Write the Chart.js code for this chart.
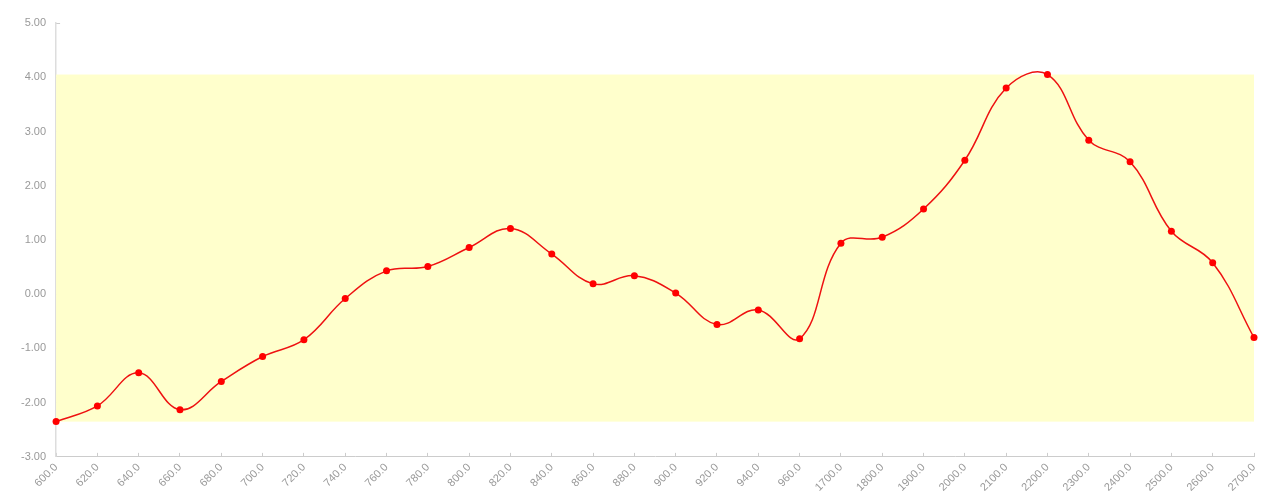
<!DOCTYPE html>
<html>
<head>
  <meta charset="UTF-8">
  <title>Line chart</title>
  <script src="https://cdn.jsdelivr.net/npm/chart.js"></script>
  <style>
    html, body {
      margin: 0;
      padding: 0;
      background: #fff;
    }
    #wrap {
      width: 1280px;
      height: 504px;
    }
  </style>
</head>
<body>
  <div id="wrap"><canvas id="lineChart"></canvas></div>

  <script>
    const categories = [600, 620, 640, 660, 680, 700, 720, 740, 760, 780,
      800, 820, 840, 860, 880, 900, 920, 940, 960,
      1700, 1800, 1900, 2000, 2100, 2200, 2300, 2400, 2500, 2600, 2700];
    const values = [-2.35, -2.06, -1.45, -2.13, -1.61, -1.15, -0.84, -0.08, 0.43, 0.51,
      0.86, 1.21, 0.74, 0.19, 0.34, 0.02, -0.56, -0.29, -0.82,
      0.94, 1.05, 1.57, 2.47, 3.80, 4.05, 2.84, 2.44, 1.16, 0.58, -0.80];
    const yMin = -3;
    const yMax = 5;
    const yStep = 1;

    // yellow band between lowest and highest value
    const rangeBand = {
      id: 'rangeBand',
      beforeDatasetsDraw(chart) {
        const { ctx, chartArea, scales } = chart;
        const top = scales.y.getPixelForValue(Math.max(...values));
        const bottom = scales.y.getPixelForValue(Math.min(...values));
        ctx.save();
        ctx.fillStyle = '#ffffcc';
        ctx.fillRect(chartArea.left, top, chartArea.right - chartArea.left, bottom - top);
        ctx.restore();
      }
    };

    const ctx = document.getElementById('lineChart').getContext('2d');
    const lineChart = new Chart(ctx, {
      type: 'line',
      data: {
        labels: categories.map(c => c.toFixed(1)),
        datasets: [{
          data: values,
          borderColor: '#ee1111',
          backgroundColor: '#ff0000',
          borderWidth: 1.5,
          pointRadius: 3.5,
          pointBorderWidth: 0,
          pointHoverRadius: 4,
          tension: 0.4,
          fill: false
        }]
      },
      options: {
        responsive: true,
        maintainAspectRatio: false,
        animation: false,
        layout: {
          padding: { top: 23, right: 26, bottom: 2, left: 7 }
        },
        plugins: {
          legend: { display: false },
          tooltip: { enabled: false }
        },
        scales: {
          x: {
            offset: false,
            grid: {
              drawOnChartArea: false,
              drawTicks: true,
              tickLength: -4,
              color: '#cccccc'
            },
            border: { color: '#cccccc' },
            ticks: {
              autoSkip: false,
              minRotation: 45,
              maxRotation: 45,
              padding: 8,
              color: '#999999',
              font: { size: 11 }
            }
          },
          y: {
            min: yMin,
            max: yMax,
            grid: {
              drawOnChartArea: false,
              drawTicks: true,
              tickLength: -4,
              color: '#cccccc'
            },
            border: { color: '#dddddd', width: 1.5 },
            ticks: {
              stepSize: yStep,
              padding: 14,
              color: '#999999',
              font: { size: 11 },
              callback: v => Number(v).toFixed(2)
            }
          }
        }
      },
      plugins: [rangeBand]
    });
  </script>
</body>
</html>
